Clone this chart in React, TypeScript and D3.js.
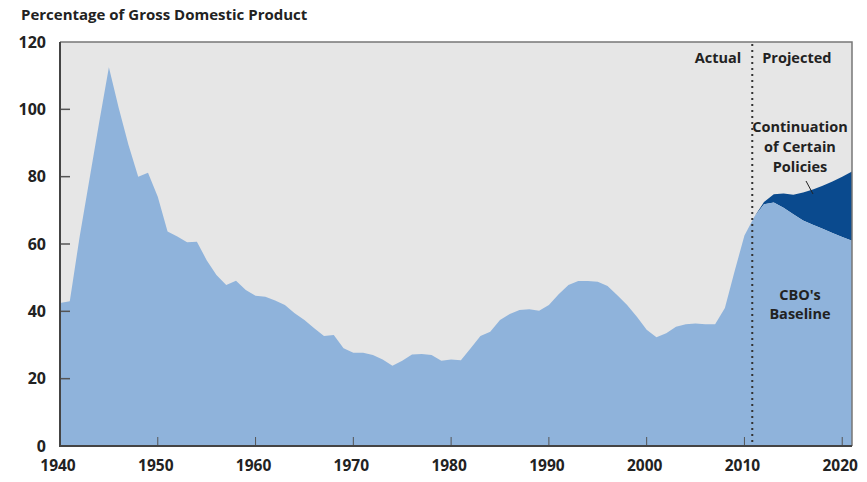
import { useEffect, useRef } from "react";
import * as d3 from "d3";

const WIDTH = 867;
const HEIGHT = 482;
const PLOT = { left: 60, right: 852, top: 42, bottom: 446 };

const FONT = "'Open Sans', 'DejaVu Sans', sans-serif";
const COLORS = {
  bg: "#e6e6e6",
  baseline: "#8fb3db",
  policies: "#0a4a8e",
  text: "#222222",
  axis: "#444444",
};

// Debt held by the public, percentage of GDP
const ACTUAL_YEARS = d3.range(1940, 2011);
const ACTUAL_VALUES = [
  42.5, 43, 62, 79, 96, 112.5, 100.5, 89.5, 80, 81.2,
  74, 63.7, 62.2, 60.5, 60.7, 55.2, 50.8, 47.8, 49.1, 46.3,
  44.6, 44.3, 43.2, 41.9, 39.4, 37.4, 35, 32.7, 33, 29,
  27.7, 27.7, 27, 25.7, 23.8, 25.3, 27.2, 27.3, 27, 25.3,
  25.7, 25.5, 29, 32.7, 33.9, 37.4, 39.2, 40.4, 40.6, 40.2,
  41.9, 45.1, 47.8, 49, 49, 48.8, 47.5, 44.8, 41.9, 38.4,
  34.5, 32.3, 33.5, 35.4, 36.2, 36.4, 36.2, 36.2, 41, 52,
  62.5,
];

const PROJ_YEARS = d3.range(2011, 2022);
const BASELINE_VALUES = [68, 71.8, 72.3, 70.8, 68.8, 67, 65.7, 64.5, 63.3, 62.1, 61];
const POLICIES_VALUES = [68, 72.5, 74.8, 75, 74.6, 75.3, 76.2, 77.3, 78.6, 80, 81.5];

const X_TICKS = [1940, 1950, 1960, 1970, 1980, 1990, 2000, 2010, 2020];
const Y_TICKS = [0, 20, 40, 60, 80, 100, 120];
const DIVIDER_YEAR = 2010.8;

function drawChart(svgEl: SVGSVGElement) {
  const svg = d3.select(svgEl);
  svg.selectAll("*").remove();

  const x = d3.scaleLinear().domain([1940, 2021]).range([PLOT.left, PLOT.right]);
  const y = d3.scaleLinear().domain([0, 120]).range([PLOT.bottom, PLOT.top]);

  svg
    .append("rect")
    .attr("width", WIDTH)
    .attr("height", HEIGHT)
    .attr("fill", "#ffffff");

  svg
    .append("rect")
    .attr("x", PLOT.left)
    .attr("y", PLOT.top)
    .attr("width", PLOT.right - PLOT.left)
    .attr("height", PLOT.bottom - PLOT.top)
    .attr("fill", COLORS.bg);

  const baseline = ACTUAL_YEARS.map((yr, i) => ({ yr, v: ACTUAL_VALUES[i] })).concat(
    PROJ_YEARS.map((yr, i) => ({ yr, v: BASELINE_VALUES[i] }))
  );
  const policies = PROJ_YEARS.map((yr, i) => ({
    yr,
    lo: BASELINE_VALUES[i],
    hi: POLICIES_VALUES[i],
  }));

  svg
    .append("path")
    .datum(policies)
    .attr("fill", COLORS.policies)
    .attr(
      "d",
      d3
        .area<{ yr: number; lo: number; hi: number }>()
        .x((d) => x(d.yr))
        .y0((d) => y(d.lo))
        .y1((d) => y(d.hi))
    );

  svg
    .append("path")
    .datum(baseline)
    .attr("fill", COLORS.baseline)
    .attr(
      "d",
      d3
        .area<{ yr: number; v: number }>()
        .x((d) => x(d.yr))
        .y0(y(0))
        .y1((d) => y(d.v))
    );

  // frame: thin top and right borders
  svg
    .append("path")
    .attr("d", `M${PLOT.left},${PLOT.top}H${PLOT.right}V${PLOT.bottom}`)
    .attr("fill", "none")
    .attr("stroke", "#777")
    .attr("stroke-width", 1.5);

  // y ticks inside plot
  const yTicks = svg.append("g");
  Y_TICKS.forEach((t) => {
    if (t > 0 && t < 120) {
      yTicks
        .append("line")
        .attr("x1", PLOT.left)
        .attr("x2", PLOT.left + 10)
        .attr("y1", y(t))
        .attr("y2", y(t))
        .attr("stroke", "#555")
        .attr("stroke-width", 1.5);
    }
    yTicks
      .append("text")
      .attr("x", 46)
      .attr("y", y(t))
      .attr("dy", "0.36em")
      .attr("text-anchor", "end")
      .attr("font-family", FONT)
      .attr("font-weight", 700)
      .attr("font-size", 16)
      .attr("fill", COLORS.text)
      .text(t);
  });

  // x ticks inside plot
  const xTicks = svg.append("g");
  X_TICKS.forEach((t) => {
    if (t > 1940) {
      xTicks
        .append("line")
        .attr("x1", x(t))
        .attr("x2", x(t))
        .attr("y1", PLOT.bottom)
        .attr("y2", PLOT.bottom - 9)
        .attr("stroke", "#555")
        .attr("stroke-width", 1);
    }
    xTicks
      .append("text")
      .attr("x", x(t) - 2)
      .attr("y", 471)
      .attr("text-anchor", "middle")
      .attr("font-family", FONT)
      .attr("font-weight", 700)
      .attr("font-size", 15.5)
      .attr("fill", COLORS.text)
      .text(t);
  });

  // axis lines
  svg
    .append("path")
    .attr("d", `M${PLOT.left},${PLOT.top}V${PLOT.bottom}H${PLOT.right}`)
    .attr("fill", "none")
    .attr("stroke", COLORS.axis)
    .attr("stroke-width", 2);

  // actual / projected divider
  svg
    .append("line")
    .attr("x1", x(DIVIDER_YEAR))
    .attr("x2", x(DIVIDER_YEAR))
    .attr("y1", PLOT.top + 2)
    .attr("y2", PLOT.bottom)
    .attr("stroke", "#333")
    .attr("stroke-width", 2)
    .attr("stroke-dasharray", "2 4");

  const label = (tx: number, ty: number, text: string, anchor: string) =>
    svg
      .append("text")
      .attr("x", tx)
      .attr("y", ty)
      .attr("text-anchor", anchor)
      .attr("font-family", FONT)
      .attr("font-weight", 700)
      .attr("font-size", 14.5)
      .attr("fill", COLORS.text)
      .text(text);

  label(21, 20, "Percentage of Gross Domestic Product", "start").attr("font-size", 15);
  label(x(DIVIDER_YEAR) - 11, 63, "Actual", "end");
  label(x(DIVIDER_YEAR) + 10, 63, "Projected", "start");

  ["Continuation", "of Certain", "Policies"].forEach((s, i) => label(800, 132 + i * 20, s, "middle"));
  ["CBO's", "Baseline"].forEach((s, i) => label(800, 300 + i * 19, s, "middle"));

  svg
    .append("line")
    .attr("x1", 806)
    .attr("y1", 181)
    .attr("x2", 813)
    .attr("y2", 194)
    .attr("stroke", "#222")
    .attr("stroke-width", 1);
}

export default function App() {
  const ref = useRef<SVGSVGElement | null>(null);

  useEffect(() => {
    if (ref.current) drawChart(ref.current);
  }, []);

  return (
    <svg
      ref={ref}
      width={WIDTH}
      height={HEIGHT}
      style={{ position: "absolute", left: 0, top: 0, display: "block" }}
    />
  );
}
